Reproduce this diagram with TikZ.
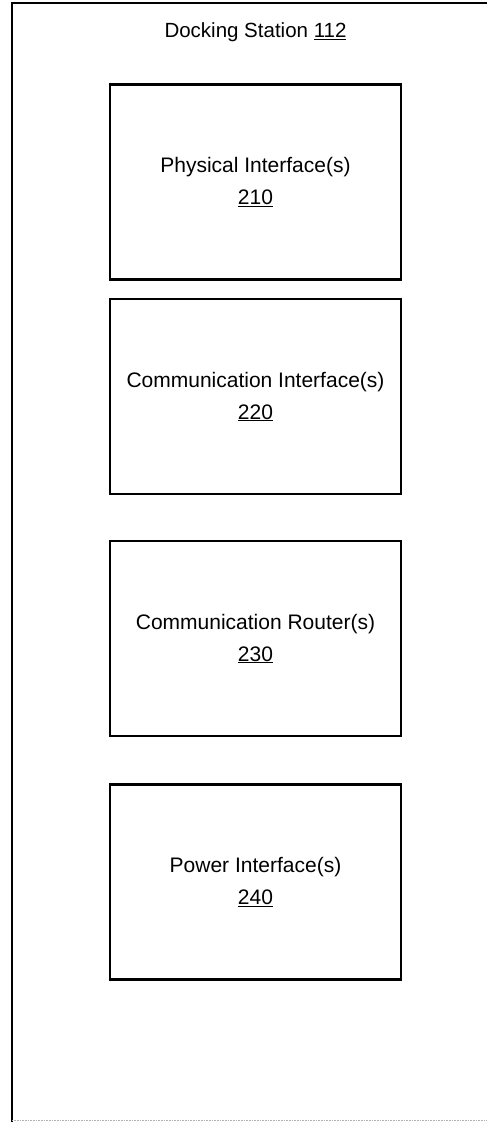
\documentclass[tikz,border=0pt]{standalone}
\usepackage{fontspec}
\setmainfont{Liberation Sans}
\begin{document}
\begin{tikzpicture}[x=1pt,y=-1pt]
	%---------------- Styles ----------------
	\tikzset{
		frame/.style={line width=2.6pt, black},               % outer station border
		unitbox/.style={draw=black, line width=2.6pt,
			minimum width=291pt, minimum height=195pt,
			align=center, font=\fontsize{21}{32}\selectfont}, % inner blocks
		title/.style={font=\fontsize{20.5}{24}\selectfont},  % station caption
	}
	
	%---------------- Page size ----------------
	\useasboundingbox (0,0) rectangle (487,1122);
	
	%---------------- Block centres ----------------
	\def\xc{255.5}
	\def\ya{182}
	\def\yb{396.5}
	\def\yc{638.5}
	\def\yd{882}
	
	%---------------- Outer frame ----------------
	\draw[frame] (12,1122) -- (12,3) -- (500,3);
	\draw[gray!60, densely dotted, line width=0.6pt] (12,1120.5) -- (487,1120.5);
	\node[title] (station) at (\xc,32) {Docking Station \underline{112}};
	
	%---------------- Inner blocks ----------------
	\node[unitbox] (phys) at (\xc,\ya) {Physical Interface(s)\\\underline{210}};
	\node[unitbox] (comm) at (\xc,\yb) {Communication Interface(s)\\\underline{220}};
	\node[unitbox] (rout) at (\xc,\yc) {Communication Router(s)\\\underline{230}};
	\node[unitbox] (power) at (\xc,\yd) {Power Interface(s)\\\underline{240}};
\end{tikzpicture}
\end{document}
